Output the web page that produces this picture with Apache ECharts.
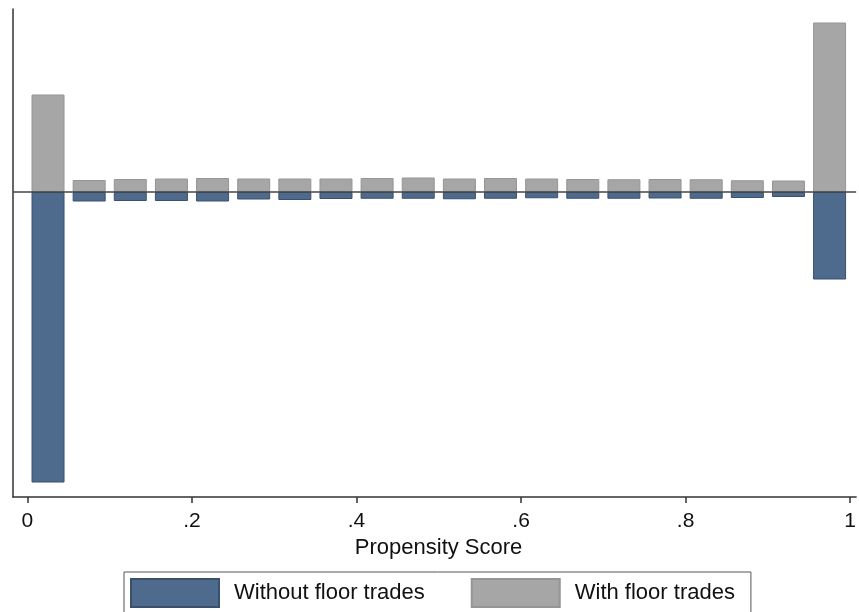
<!DOCTYPE html>
<html>
<head>
<meta charset="utf-8">
<script src="https://cdn.jsdelivr.net/npm/echarts@6/dist/echarts.min.js"></script>
<style>html,body{margin:0;padding:0;background:#fff;}#c{width:859px;height:612px;}</style>
</head>
<body>
<div id="c"></div>
<script>
// Bin centers (propensity score bins of width 0.05)
const binCenters = [0.025,0.075,0.125,0.175,0.225,0.275,0.325,0.375,0.425,0.475,0.525,0.575,0.625,0.675,0.725,0.775,0.825,0.875,0.925,0.975];
// Density with floor trades (plotted upward)
const withFloor = [1.95,0.24,0.26,0.27,0.28,0.27,0.27,0.27,0.28,0.29,0.27,0.28,0.27,0.26,0.255,0.26,0.255,0.235,0.23,3.39];
// Density without floor trades (plotted downward)
const withoutFloor = [5.81,0.19,0.18,0.18,0.19,0.15,0.16,0.14,0.135,0.135,0.145,0.135,0.125,0.135,0.135,0.13,0.135,0.12,0.1,1.75];
const xTicks = [0,0.2,0.4,0.6,0.8,1];
const xTickLabels = ['0','.2','.4','.6','.8','1'];
const xTitle = 'Propensity Score';
const seriesNames = ['Without floor trades','With floor trades'];

const chart = echarts.init(document.getElementById('c'));
const font = 'Liberation Sans, Arial, Helvetica, sans-serif';
chart.setOption({
  animation: false,
  backgroundColor: '#fff',
  grid: {left: 13, top: 9, width: 846, height: 488, containLabel: false},
  legend: {
    data: seriesNames,
    left: 124, top: 572,
    padding: [6, 16, 12, 6],
    borderColor: '#555', borderWidth: 1,
    itemWidth: 88, itemHeight: 28, itemGap: 46,
    icon: 'rect',
    textStyle: {fontFamily: font, fontSize: 22, color: '#111', padding: [0,0,0,10]}
  },
  xAxis: {
    type: 'value',
    min: -0.01757, max: 1.00727,
    axisLine: {show: true, onZero: false, lineStyle: {color: '#333', width: 1.5}},
    axisTick: {show: true, customValues: xTicks, length: 6, lineStyle: {color: '#333', width: 1.5}},
    axisLabel: {customValues: xTicks, margin: 14, fontFamily: font, fontSize: 21, color: '#111',
      formatter: v => { const i = xTicks.findIndex(t => Math.abs(t - v) < 1e-9); return i >= 0 ? xTickLabels[i] : ''; }},
    splitLine: {show: false},
    name: xTitle, nameLocation: 'middle', nameGap: 40,
    nameTextStyle: {fontFamily: font, fontSize: 22, color: '#111', padding: [0,0,0,8]}
  },
  yAxis: {
    type: 'value', min: -6.1, max: 3.66,
    axisLine: {show: true, onZero: false, lineStyle: {color: '#333', width: 1.5}},
    axisTick: {show: false}, axisLabel: {show: false}, splitLine: {show: false}
  },
  series: [
    {
      name: seriesNames[0], type: 'bar', stack: 's', barWidth: 33,
      data: binCenters.map((x, i) => [x, -withoutFloor[i]]),
      itemStyle: {color: '#4e6a8d', borderColor: '#3a506c', borderWidth: 1}
    },
    {
      name: seriesNames[1], type: 'bar', stack: 's', barWidth: 33,
      data: binCenters.map((x, i) => [x, withFloor[i]]),
      itemStyle: {color: '#a6a6a6', borderColor: '#959595', borderWidth: 1},
      markLine: {
        silent: true, symbol: 'none', label: {show: false},
        lineStyle: {color: '#444', width: 1.5, type: 'solid'},
        data: [{yAxis: 0}]
      }
    }
  ]
});
</script>
</body>
</html>
